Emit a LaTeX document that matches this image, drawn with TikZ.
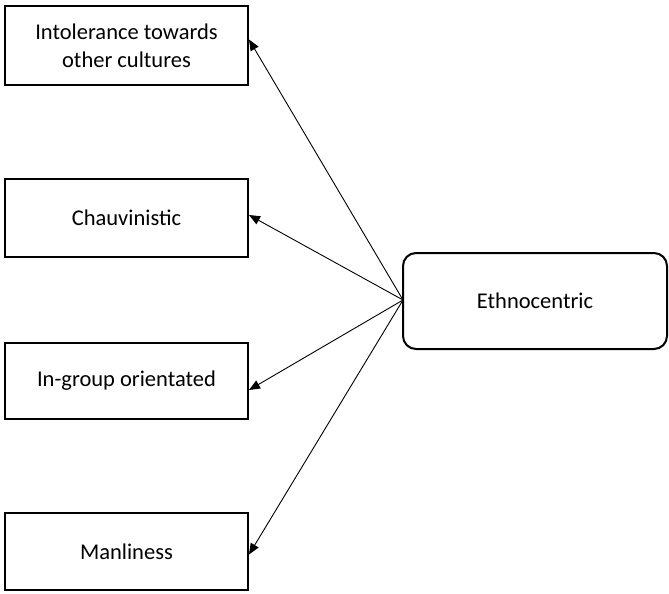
\documentclass[tikz,border=0pt]{standalone}
\usepackage{fontspec}
\setmainfont{Carlito}
\usetikzlibrary{arrows.meta}
\begin{document}
\begin{tikzpicture}[x=1pt,y=-1pt,
  box/.style={draw=black,line width=2pt,minimum width=243pt,inner sep=0pt,align=center,font=\fontsize{22.5}{28}\selectfont},
  rbox/.style={draw=black,line width=2pt,rounded corners=13pt,minimum width=264pt,minimum height=96pt,inner sep=0pt,font=\fontsize{22.5}{28}\selectfont},
  link/.style={line width=0.9pt,-{Triangle[length=11pt,width=9pt]}}]
\useasboundingbox (0,0) rectangle (669,594);
\node[box,minimum height=79pt] (a) at (126.5,45.5) {Intolerance towards\\other cultures};
\node[box,minimum height=78pt] (b) at (126.5,218) {Chauvinistic};
\node[box,minimum height=76pt] (c) at (126.5,381) {In-group orientated};
\node[box,minimum height=77pt] (d) at (126.5,551.5) {Manliness};
\node[rbox] (e) at (535,301) {Ethnocentric};
\coordinate (o) at (403,300);
\draw[link] (o) -- ([yshift=6pt]a.east);
\draw[link] (o) -- ([yshift=3pt]b.east);
\draw[link] (o) -- ([yshift=-9pt]c.east);
\draw[link] (o) -- ([yshift=-3pt]d.east);
\end{tikzpicture}
\end{document}
